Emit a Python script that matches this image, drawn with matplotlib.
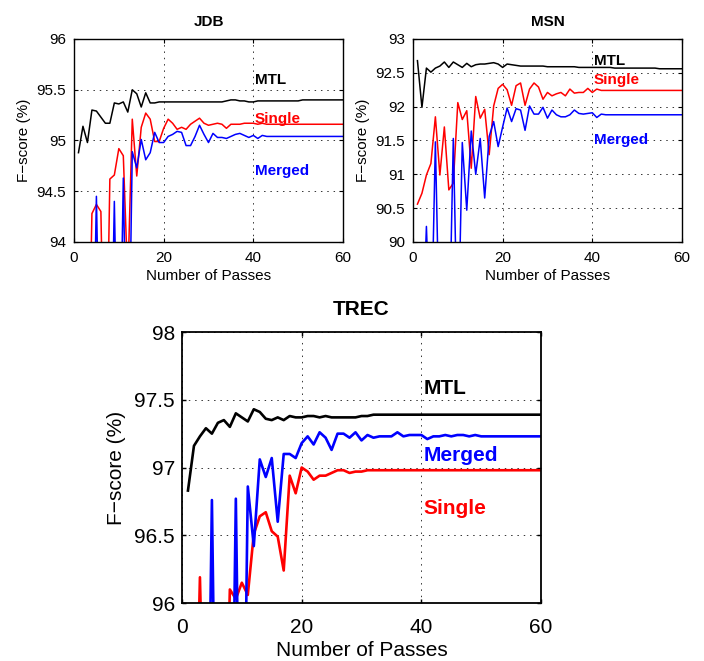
import numpy as np
import matplotlib
matplotlib.use("Agg")
import matplotlib.pyplot as plt
from matplotlib.ticker import MultipleLocator, FormatStrFormatter

# ==============================
# Global styling (MATLAB-like)
# ==============================

plt.rcParams.update({
    "font.family": ["Liberation Sans", "DejaVu Sans"],
    "xtick.direction": "in",
    "ytick.direction": "in",
    "xtick.top": True,
    "ytick.right": True,
})

# ==============================
# Data
# ==============================

passes = np.arange(1, 61)

# JDB
mtl_jdb = [94.88, 95.14, 94.98, 95.30, 95.29, 95.23, 95.17, 95.17, 95.37, 95.36,
           95.38, 95.28, 95.50, 95.46, 95.33, 95.47, 95.37, 95.37, 95.38, 95.38,
           95.38, 95.38, 95.38, 95.38, 95.38, 95.38, 95.38, 95.38, 95.38, 95.38,
           95.38, 95.38, 95.38, 95.39, 95.40, 95.40, 95.39, 95.39, 95.38, 95.38,
           95.39, 95.39, 95.39, 95.39, 95.39, 95.39, 95.39, 95.39, 95.39, 95.39,
           95.40, 95.40, 95.40, 95.40, 95.40, 95.40, 95.40, 95.40, 95.40, 95.40]
single_jdb = [92.0, 92.0, 92.0, 94.28, 94.37, 94.30, 92.0, 94.62, 94.66, 94.92,
              94.85, 93.6, 95.21, 94.65, 95.13, 95.27, 95.21, 94.99, 94.99, 95.12,
              95.21, 95.17, 95.11, 95.13, 95.11, 95.16, 95.19, 95.22, 95.17, 95.15,
              95.16, 95.17, 95.16, 95.12, 95.16, 95.16, 95.16, 95.17, 95.17, 95.17,
              95.16, 95.17, 95.16, 95.16, 95.16, 95.16, 95.16, 95.16, 95.16, 95.16,
              95.16, 95.16, 95.16, 95.16, 95.16, 95.16, 95.16, 95.16, 95.16, 95.16]
merged_jdb = [92.0, 92.0, 92.0, 92.0, 94.45, 92.0, 92.0, 92.0, 94.40, 92.0,
              94.63, 92.0, 94.89, 94.73, 95.01, 94.81, 94.88, 95.08, 94.98, 94.98,
              95.04, 95.06, 95.09, 95.08, 94.95, 94.95, 95.04, 95.15, 95.06, 94.98,
              95.07, 95.03, 95.03, 95.02, 95.04, 95.06, 95.07, 95.05, 95.03, 95.05,
              95.02, 95.05, 95.04, 95.04, 95.04, 95.04, 95.04, 95.04, 95.04, 95.04,
              95.04, 95.04, 95.04, 95.04, 95.04, 95.04, 95.04, 95.04, 95.04, 95.04]

# MSN
mtl_msn = [92.68, 91.99, 92.57, 92.51, 92.57, 92.60, 92.66, 92.58, 92.66, 92.62,
           92.58, 92.64, 92.59, 92.62, 92.63, 92.63, 92.64, 92.65, 92.63, 92.58,
           92.63, 92.62, 92.61, 92.60, 92.60, 92.60, 92.60, 92.60, 92.60, 92.59,
           92.59, 92.59, 92.59, 92.59, 92.59, 92.59, 92.58, 92.58, 92.58, 92.58,
           92.58, 92.58, 92.58, 92.58, 92.57, 92.57, 92.57, 92.57, 92.57, 92.57,
           92.57, 92.57, 92.57, 92.57, 92.56, 92.56, 92.56, 92.56, 92.56, 92.56]
single_msn = [90.56, 90.72, 90.99, 91.16, 91.85, 90.99, 91.70, 90.77, 90.87, 92.06,
              91.81, 91.94, 91.09, 92.15, 91.83, 91.96, 91.29, 92.01, 92.27, 92.33,
              92.25, 92.02, 92.31, 92.35, 92.02, 92.26, 92.35, 92.29, 92.11, 92.21,
              92.16, 92.19, 92.21, 92.16, 92.26, 92.20, 92.21, 92.21, 92.27, 92.21,
              92.26, 92.24, 92.24, 92.24, 92.24, 92.24, 92.24, 92.24, 92.24, 92.24,
              92.24, 92.24, 92.24, 92.24, 92.24, 92.24, 92.24, 92.24, 92.24, 92.24]
merged_msn = [88.3, 88.3, 90.23, 88.3, 91.48, 88.3, 88.3, 88.3, 91.53, 88.3,
              91.47, 90.47, 91.64, 91.00, 91.53, 90.65, 91.56, 91.78, 91.41, 91.70,
              91.98, 91.78, 91.97, 91.95, 91.65, 92.01, 91.89, 91.89, 91.99, 91.83,
              91.95, 91.88, 91.85, 91.85, 91.88, 91.95, 91.90, 91.89, 91.90, 91.91,
              91.84, 91.89, 91.88, 91.88, 91.88, 91.88, 91.88, 91.88, 91.88, 91.88,
              91.88, 91.88, 91.88, 91.88, 91.88, 91.88, 91.88, 91.88, 91.88, 91.88]

# TREC
mtl_trec = [96.83, 97.16, 97.23, 97.29, 97.25, 97.33, 97.35, 97.30, 97.40, 97.37,
            97.34, 97.43, 97.41, 97.36, 97.35, 97.37, 97.35, 97.38, 97.37, 97.37,
            97.38, 97.38, 97.37, 97.38, 97.37, 97.37, 97.37, 97.37, 97.37, 97.38,
            97.38, 97.39, 97.39, 97.39, 97.39, 97.39, 97.39, 97.39, 97.39, 97.39,
            97.39, 97.39, 97.39, 97.39, 97.39, 97.39, 97.39, 97.39, 97.39, 97.39,
            97.39, 97.39, 97.39, 97.39, 97.39, 97.39, 97.39, 97.39, 97.39, 97.39]
single_trec = [94.3, 94.3, 96.19, 94.3, 94.3, 94.3, 94.3, 96.10, 96.03, 96.15,
               96.06, 96.51, 96.64, 96.67, 96.53, 96.49, 96.24, 96.94, 96.81, 97.00,
               96.97, 96.91, 96.94, 96.94, 96.96, 96.98, 96.98, 96.96, 96.97, 96.97,
               96.98, 96.98, 96.98, 96.98, 96.98, 96.98, 96.98, 96.98, 96.98, 96.98,
               96.98, 96.98, 96.98, 96.98, 96.98, 96.98, 96.98, 96.98, 96.98, 96.98,
               96.98, 96.98, 96.98, 96.98, 96.98, 96.98, 96.98, 96.98, 96.98, 96.98]
merged_trec = [93.5, 93.5, 93.5, 93.5, 96.76, 93.5, 93.5, 93.5, 96.77, 93.5,
               96.86, 96.42, 97.06, 96.93, 97.07, 96.60, 97.10, 97.10, 97.07, 97.18,
               97.23, 97.17, 97.26, 97.22, 97.13, 97.25, 97.25, 97.22, 97.26, 97.20,
               97.24, 97.22, 97.23, 97.23, 97.23, 97.26, 97.23, 97.24, 97.24, 97.24,
               97.21, 97.23, 97.23, 97.24, 97.23, 97.24, 97.24, 97.23, 97.24, 97.23,
               97.23, 97.23, 97.23, 97.23, 97.23, 97.23, 97.23, 97.23, 97.23, 97.23]

# ==============================
# Plotting
# ==============================

fig = plt.figure(figsize=(7.04, 6.61), dpi=100)


def panel(rect, title, mtl, single, merged, ylim, labels_y, fs, lw, spine_w,
          pad, xpad, ypad, ylabpad):
    ax = fig.add_axes(rect)
    ax.plot(passes, mtl, color="black", lw=lw)
    ax.plot(passes, single, color="red", lw=lw)
    ax.plot(passes, merged, color="blue", lw=lw)
    ax.set_xlim(0, 60)
    ax.set_ylim(*ylim)
    ax.xaxis.set_major_locator(MultipleLocator(20))
    ax.yaxis.set_major_locator(MultipleLocator(0.5))
    ax.yaxis.set_major_formatter(FormatStrFormatter("%g"))
    ax.grid(True, color="0.2", linestyle=(0, (1.5, 5)), linewidth=0.7)
    ax.tick_params(labelsize=fs, length=3, width=spine_w * 0.8)
    ax.tick_params(axis="x", pad=xpad)
    ax.tick_params(axis="y", pad=ypad)
    for s in ax.spines.values():
        s.set_linewidth(spine_w)
    ax.set_xlabel("Number of Passes", fontsize=fs, labelpad=3)
    ax.set_ylabel("F\u2212score (%)", fontsize=fs, labelpad=ylabpad)
    ax.set_title(title, fontsize=fs, fontweight="bold", pad=pad)
    for name, color, y in zip(["MTL", "Single", "Merged"],
                              ["black", "red", "blue"], labels_y):
        ax.text(40.3, y, name, color=color, fontsize=fs, fontweight="bold",
                ha="left", va="center")
    return ax


panel([0.1051, 0.6339, 0.3821, 0.3071], "JDB", mtl_jdb, single_jdb, merged_jdb,
      (94, 96), [95.60, 95.21, 94.70], 11, 1.1, 1.0, 9, 6.5, 5.5, 4)
panel([0.5866, 0.6339, 0.3821, 0.3071], "MSN", mtl_msn, single_msn, merged_msn,
      (90, 93), [92.68, 92.39, 91.51], 11, 1.1, 1.0, 9, 6.5, 5.5, 4)
panel([0.2585, 0.0877, 0.5100, 0.4100], "TREC", mtl_trec, single_trec, merged_trec,
      (96, 98), [97.58, 96.70, 97.09], 15, 1.9, 1.3, 12, 11, 5, 6)

fig.savefig("out.png", dpi=100)
